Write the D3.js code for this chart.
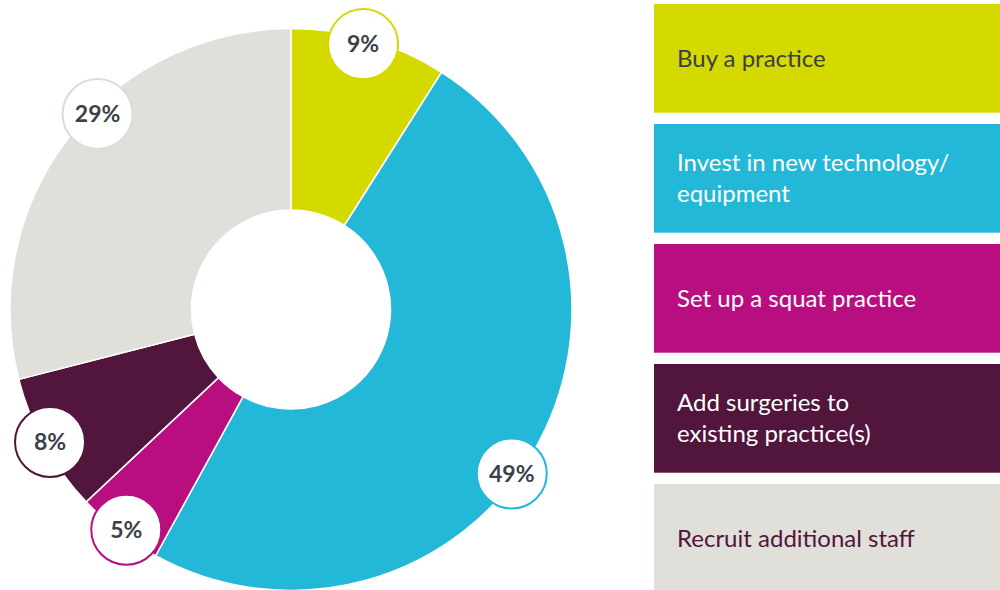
<!DOCTYPE html>
<html>
<head>
<meta charset="utf-8">
<script src="https://cdn.jsdelivr.net/npm/d3@7"></script>
<style>
  html, body { margin: 0; padding: 0; background: #fff; }
  svg { display: block; }
</style>
</head>
<body>
<svg id="chart" width="1000" height="590"></svg>
<script>
const categories = ["Buy a practice", "Invest in new technology/\nequipment", "Set up a squat practice", "Add surgeries to\nexisting practice(s)", "Recruit additional staff"];
const values = [9, 49, 5, 8, 29];
const colors = ["#d4d900", "#23b8d7", "#b90e7f", "#52153c", "#e0dfda"];
const textColors = ["#3a3f45", "#ffffff", "#ffffff", "#ffffff", "#52153c"];
const labelStroke = ["#d4d900", "#23b8d7", "#b90e7f", "#52153c", "#dcdbd5"];

const data = categories.map((c, i) => ({ category: c, value: values[i], color: colors[i], text: textColors[i], stroke: labelStroke[i] }));

const svg = d3.select("#chart");
const cx = 291, cy = 309.5;
const outerR = 281, innerR = 99.5, labelR = 275, bubbleR = 35;
// small angular nudges (degrees) for the bubble labels, as in the original layout
const labelNudge = [-1, 6, -1, 0, 7.5];

const pie = d3.pie().value(d => d.value).sort(null).startAngle(0).endAngle(2 * Math.PI);
const arcs = pie(data);
const arc = d3.arc().innerRadius(innerR).outerRadius(outerR);

const g = svg.append("g").attr("transform", `translate(${cx},${cy})`);
g.selectAll("path.slice").data(arcs).join("path")
  .attr("class", "slice")
  .attr("d", arc)
  .attr("fill", d => d.data.color)
  .attr("stroke", "#ffffff")
  .attr("stroke-width", 1.5)
  .attr("stroke-linejoin", "round");

function labelPos(d, i) {
  const a = (d.startAngle + d.endAngle) / 2 + labelNudge[i] * Math.PI / 180;
  return [labelR * Math.sin(a), -labelR * Math.cos(a)];
}

const lbl = g.selectAll("g.lbl").data(arcs).join("g")
  .attr("class", "lbl")
  .attr("transform", (d, i) => `translate(${labelPos(d, i)})`);
lbl.append("circle")
  .attr("r", bubbleR)
  .attr("fill", "#ffffff")
  .attr("stroke", d => d.data.stroke)
  .attr("stroke-width", 2);
lbl.append("text")
  .attr("text-anchor", "middle")
  .attr("dy", "0.36em")
  .attr("font-family", "Lato, 'Open Sans', sans-serif")
  .attr("font-weight", 700)
  .attr("font-size", 23)
  .attr("fill", "#3b4149")
  .text(d => d.data.value + "%");

// Legend
const legendX = 654, legendW = 346, gap = 11.3, step = 120;
const legendY = d3.scaleBand().domain(d3.range(data.length))
  .range([4, 4 + step * data.length - gap]).paddingInner(gap / step).paddingOuter(0);
const leg = svg.selectAll("g.leg").data(data).join("g")
  .attr("class", "leg")
  .attr("transform", (d, i) => `translate(${legendX},${legendY(i)})`);
leg.append("rect")
  .attr("width", legendW)
  .attr("height", legendY.bandwidth())
  .attr("fill", d => d.color);
leg.each(function(d) {
  const lines = d.category.split("\n");
  const lh = 31;
  const h = legendY.bandwidth();
  const t = d3.select(this).append("text")
    .attr("font-family", "Lato, 'Open Sans', sans-serif")
    .attr("font-size", 24)
    .attr("fill", d.text);
  lines.forEach((ln, k) => {
    t.append("tspan")
      .attr("x", 23)
      .attr("y", h / 2 + 8.5 + (k - (lines.length - 1) / 2) * lh)
      .text(ln);
  });
});
</script>
</body>
</html>
